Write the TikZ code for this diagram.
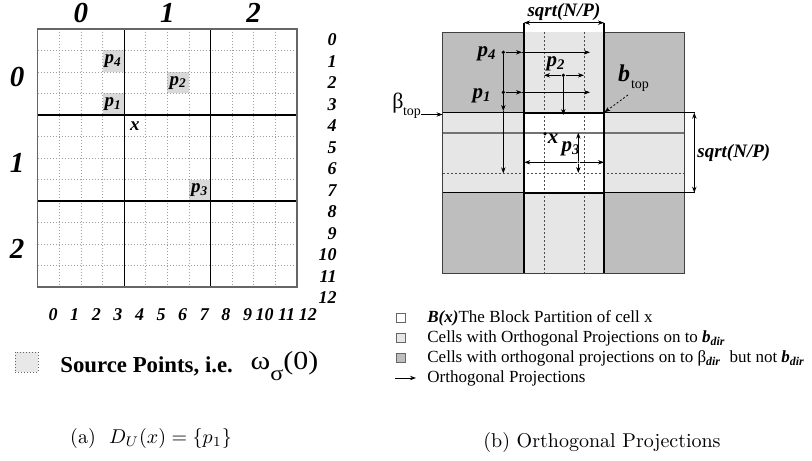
\documentclass[tikz,border=0pt]{standalone}
\usepackage{fontspec}
\newfontfamily\tms{Liberation Serif}
\usetikzlibrary{arrows.meta,positioning}
\definecolor{cellgray}{HTML}{D9D9D9}
\definecolor{srcgray}{HTML}{E8E8E8}
\definecolor{blocklight}{HTML}{E6E6E6}
\definecolor{blockdark}{HTML}{BEBEBE}
\tikzstyle{gridline}=[gray!75,line width=0.4pt,dash pattern=on 0.5pt off 1pt]
\tikzstyle{blockline}=[black,line width=0.6pt]
\tikzstyle{gridframe}=[black!60,line width=0.6pt]
\tikzstyle{numlab}=[inner sep=0pt,font=\tms\bfseries\itshape\fontsize{9}{10}\selectfont]
\tikzstyle{biglab}=[inner sep=0pt,font=\tms\bfseries\itshape\fontsize{14.5}{16}\selectfont]
\tikzstyle{celllab}=[inner sep=0pt,font=\tms\bfseries\itshape\fontsize{9.5}{10}\selectfont]
\tikzstyle{projlab}=[inner sep=0pt,font=\tms\bfseries\itshape\fontsize{10.5}{12}\selectfont]
\tikzstyle{celldots}=[black!70,line width=0.4pt,dash pattern=on 1pt off 1pt]
\tikzstyle{proj}=[-{Stealth[length=3pt,width=2.2pt]},line width=0.4pt]
\tikzstyle{dimarr}=[{Stealth[length=3pt,width=2.2pt]}-{Stealth[length=3pt,width=2.2pt]},line width=0.5pt]
\tikzstyle{ptdot}=[circle,fill,inner sep=0pt,minimum size=1.8pt]
\tikzstyle{legbox}=[draw=black!60,line width=0.4pt,inner sep=0pt,minimum size=4.6pt]
\tikzstyle{legtext}=[inner sep=0pt,anchor=west,font=\tms\fontsize{8.5}{10}\selectfont]

\begin{document}
\begin{tikzpicture}[x=0.5pt,y=-0.5pt]
\useasboundingbox (0,0) rectangle (812,460);

% ---- (a) grid of cells
\foreach \c/\r in {3/1,3/3,6/2,7/7}
  \fill[cellgray] ({37.7+21.6*\c},{29+21.5*\r}) rectangle ++(21.6,21.5);
\foreach \i in {1,...,11} {
  \draw[gridline] ({37.7+21.6*\i},29) -- ({37.7+21.6*\i},287);
  \draw[gridline] (37.7,{29+21.5*\i}) -- (296.9,{29+21.5*\i});
}
\foreach \i in {4,8} {
  \draw[blockline] ({37.7+21.6*\i},29) -- ({37.7+21.6*\i},287);
  \draw[blockline] (37.7,{29+21.5*\i}) -- (296.9,{29+21.5*\i});
}
\draw[gridframe] (37.7,29) rectangle (296.9,287);

\node[celllab] (g4) at (113.3,61.3) {p\textsubscript{4}};
\node[celllab] (g1) at (113.3,104.3) {p\textsubscript{1}};
\node[celllab] (g2) at (178.1,82.8) {p\textsubscript{2}};
\node[celllab] (g3) at (199.7,190.3) {p\textsubscript{3}};
\node[celllab] (gx) at (134.9,125.8) {x};

\foreach \k in {0,1,2} {
  \node[biglab] (top\k) at ({80.9+86.4*\k},13) {\k};
  \node[biglab] (side\k) at (17,{77+86*\k}) {\k};
}
\foreach \i in {0,...,12} {
  \node[numlab,anchor=east] (col\i) at ({58+21.6*\i},315) {\i};
  \node[numlab,anchor=east] (row\i) at (337,{39.8+21.5*\i}) {\i};
}

% source points legend
\node[draw=black!60,dash pattern=on 0.5pt off 1pt,line width=0.4pt,fill=srcgray,
      minimum width=11.5pt,minimum height=10pt,inner sep=0pt] (srcbox) at (26.5,362) {};
\node[inner sep=0pt,anchor=west,font=\tms\bfseries\fontsize{11.4}{13}\selectfont] (srctext) at (60,366) {Source Points, i.e.};
\node[inner sep=0pt,right=8.5pt of srctext,font=\tms\fontsize{13}{14}\selectfont] (omega)
  {\scalebox{1.15}[1]{ω\raisebox{-0.4em}{\fontsize{10.5}{10}\selectfont σ}(0)}};

\node[inner sep=0pt] (capa) at (151,438) {(a)\ \ $D_U(x) = \{p_1\}$};

% ---- (b) block partition
\fill[blockdark] (442.7,32.3) rectangle (524,112.7);
\fill[blockdark] (604,32.3) rectangle (684.3,112.7);
\fill[blockdark] (442.7,192.7) rectangle (524,273.3);
\fill[blockdark] (604,192.7) rectangle (684.3,273.3);
\fill[blocklight] (524,32.3) rectangle (604,112.7);
\fill[blocklight] (524,192.7) rectangle (604,273.3);
\fill[blocklight] (442.7,112.7) rectangle (524,192.7);
\fill[blocklight] (604,112.7) rectangle (684.3,192.7);

\draw[celldots] (544,32.3) -- (544,273.3);
\draw[celldots] (584,32.3) -- (584,273.3);
\draw[celldots] (442.7,173.3) -- (684.3,173.3);
\draw[black!55,line width=1pt] (442.7,132.7) -- (684.3,132.7);

\draw[black!75,line width=0.5pt] (524,32.3) -- (442.7,32.3) -- (442.7,273.3) -- (684.3,273.3)
  -- (684.3,32.3) -- (604,32.3);
\draw[blockline] (524,22.7) -- (524,273.3);
\draw[blockline] (604,22.7) -- (604,273.3);
\draw[blockline] (442.7,112.7) -- (695,112.7);
\draw[blockline] (442.7,192.7) -- (695,192.7);
\draw[black,line width=1pt] (524,112.7) rectangle (604,192.7);

% dimensions
\coordinate (dimtl) at (524,22.7);
\coordinate (dimtr) at (604,22.7);
\coordinate (dimrt) at (694.3,112.7);
\coordinate (dimrb) at (694.3,192.7);
\draw[dimarr] (dimtl) -- (dimtr);
\draw[dimarr] (dimrt) -- (dimrb);
\node[projlab,font=\tms\bfseries\itshape\fontsize{9.5}{11}\selectfont] (sqtop) at (564,12) {sqrt(N/P)};
\node[projlab,font=\tms\bfseries\itshape\fontsize{9.5}{11}\selectfont,anchor=west] (sqright) at (697,153) {sqrt(N/P)};

% projections
\node[ptdot] (pp4) at (503.3,52.3) {};
\node[ptdot] (pp1) at (503.3,92.3) {};
\node[ptdot] (pp2) at (563.3,75.3) {};
\node[ptdot,minimum size=1pt] (pp3) at (578.3,162.3) {};
\node[ptdot] (ppx) at (545,133.8) {};
\coordinate (p4rm) at (522,52.3);
\coordinate (p4r) at (590,52.3);
\coordinate (p4dm) at (503.3,111);
\coordinate (p4d) at (503.3,173.3);
\coordinate (p1rm) at (522,92.3);
\coordinate (p1r) at (590,92.3);
\coordinate (p2l) at (544,75.3);
\coordinate (p2r) at (584,75.3);
\coordinate (p2d) at (563.3,115);
\coordinate (p3l) at (524.3,162.3);
\coordinate (p3r) at (604,162.3);
\coordinate (p3u) at (578.3,132.7);
\coordinate (p3d) at (578.3,173);
\draw[proj] (pp4) -- (p4rm);
\draw[proj] (p4rm) -- (p4r);
\draw[proj] (pp4) -- (p4dm);
\draw[proj] (p4dm) -- (p4d);
\draw[proj] (pp1) -- (p1rm);
\draw[proj] (p1rm) -- (p1r);
\draw[proj] (pp2) -- (p2l);
\draw[proj] (pp2) -- (p2r);
\draw[proj] (pp2) -- (p2d);
\draw[proj] (pp3) -- (p3l);
\draw[proj] (pp3) -- (p3r);
\draw[proj] (pp3) -- (p3u);
\draw[proj] (pp3) -- (p3d);

\node[projlab] (lp4) at (487,54) {p\textsubscript{4}};
\node[projlab] (lp1) at (482,96) {p\textsubscript{1}};
\node[projlab] (lp2) at (556,64) {p\textsubscript{2}};
\node[projlab] (lp3) at (571,149) {p\textsubscript{3}};
\node[projlab] (lx) at (553,139) {x};

% b_top and beta_top
\node[projlab,font=\tms\bfseries\itshape\fontsize{12}{13}\selectfont] (lb) at (624,73) {b};
\node[inner sep=0pt,font=\tms\fontsize{7}{8}\selectfont] (lbsub) at (640,86) {top};
\coordinate (btail) at (628,95);
\coordinate (bcorner) at (604.5,112.2);
\draw[proj,dash pattern=on 1pt off 1pt] (btail) -- (bcorner);
\node[inner sep=0pt,font=\tms\fontsize{11}{12}\selectfont] (lbeta) at (398,103) {β};
\node[inner sep=0pt,font=\tms\fontsize{7}{8}\selectfont] (lbetasub) at (412,113) {top};
\coordinate (betatail) at (421,114.5);
\coordinate (betatip) at (442.5,114.5);
\draw[proj] (betatail) -- (betatip);

% legend
\node[legbox,fill=white] (lb1) at (401,317.5) {};
\node[legbox,fill=blocklight] (lb2) at (401,337.5) {};
\node[legbox,fill=blockdark] (lb3) at (401,357.5) {};
\coordinate (la1) at (395,378);
\coordinate (la2) at (416,378);
\draw[proj] (la1) -- (la2);
\node[legtext] (lt1) at (427,318.5) {{\bfseries\itshape B(x)}The Block Partition of cell x};
\node[legtext] (lt2) at (427,338.5) {Cells with Orthogonal Projections on to {\bfseries\itshape b\textsubscript{dir}}};
\node[legtext] (lt3) at (427,358.5) {Cells with orthogonal projections on to β\textsubscript{\bfseries\itshape dir}\ \ but not {\bfseries\itshape b\textsubscript{dir}}};
\node[legtext] (lt4) at (427,378) {Orthogonal Projections};

\node[inner sep=0pt] (capb) at (602,442) {(b) Orthogonal Projections};
\end{tikzpicture}
\end{document}
